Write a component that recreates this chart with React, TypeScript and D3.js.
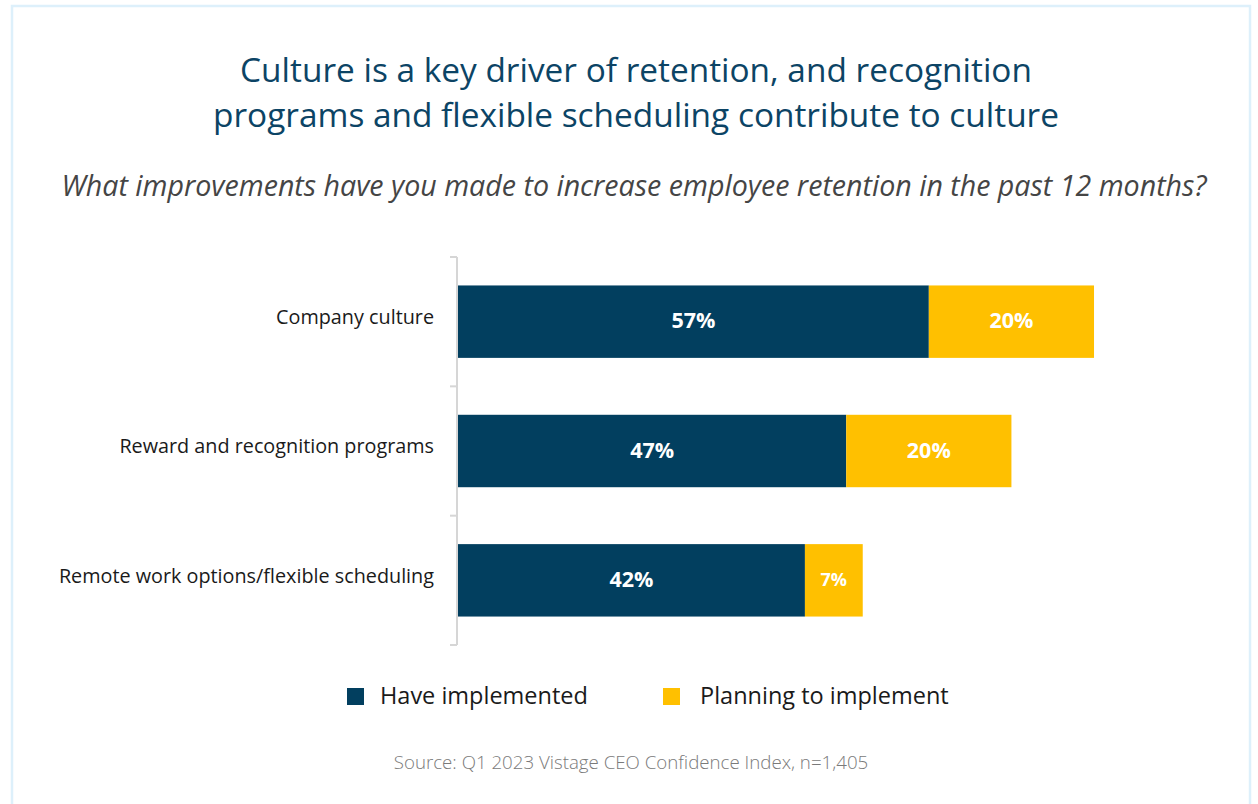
import React from "react";
import * as d3 from "d3";

const categories = [
  "Company culture",
  "Reward and recognition programs",
  "Remote work options/flexible scheduling",
];
const haveImplemented = [57, 47, 42];
const planningToImplement = [20, 20, 7];
const seriesNames = ["Have implemented", "Planning to implement"];
const seriesColors = ["#023f5f", "#ffc000"];
const titleLines = [
  "Culture is a key driver of retention, and recognition",
  "programs and flexible scheduling contribute to culture",
];
const subtitle =
  "What improvements have you made to increase employee retention in the past 12 months?";
const source = "Source: Q1 2023 Vistage CEO Confidence Index, n=1,405";

const W = 1258;
const H = 804;
const FONT = "'Open Sans', 'Noto Sans', sans-serif";

export default function App() {
  const x = d3.scaleLinear().domain([0, 100]).range([458, 1284]);
  const y = d3
    .scaleBand<string>()
    .domain(categories)
    .range([257, 645])
    .paddingInner(0.44)
    .paddingOuter(0.22);

  const tickYs = [257, ...categories.slice(1).map((c) => (y(c) as number) - (y.step() * 0.44) / 2), 645];

  const stacked = categories.map((c, i) => {
    const a = haveImplemented[i];
    const b = planningToImplement[i];
    return [
      { key: 0, x0: 0, x1: a, v: a },
      { key: 1, x0: a, x1: a + b, v: b },
    ];
  });

  const legendSquareX = [347, 663];
  const legendTextX = [380, 700];

  return (
    <div style={{ position: "absolute", left: 0, top: 0 }}>
      <svg width={W} height={H} style={{ display: "block", fontFamily: FONT }}>
        <rect x={0} y={0} width={W} height={H} fill="#ffffff" />
        <rect x={12} y={6} width={1238} height={820} fill="none" stroke="#ddf0fb" strokeWidth={2.5} />
        {titleLines.map((t, i) => (
          <text
            key={i}
            x={636}
            y={82 + i * 45}
            textAnchor="middle"
            fontSize={33.4}
            fill="#0c4465"
          >
            {t}
          </text>
        ))}
        <text x={634} y={196} textAnchor="middle" fontSize={28.6} fontStyle="italic" fill="#454545">
          {subtitle}
        </text>

        {/* axis */}
        <line x1={457} x2={457} y1={257} y2={645} stroke="#d6d6d6" strokeWidth={2} />
        {tickYs.map((ty, i) => (
          <line key={i} x1={450} x2={457} y1={ty} y2={ty} stroke="#d6d6d6" strokeWidth={2} />
        ))}

        {categories.map((c, i) => (
          <g key={c}>
            <text
              x={434}
              y={(y(c) as number) + y.bandwidth() / 2 - 3}
              textAnchor="end"
              dominantBaseline="middle"
              fontSize={19.8}
              fill="#1a1a1a"
            >
              {c}
            </text>
            {stacked[i].map((s) => (
              <g key={s.key}>
                <rect
                  x={x(s.x0)}
                  y={y(c) as number}
                  width={x(s.x1) - x(s.x0)}
                  height={y.bandwidth()}
                  fill={seriesColors[s.key]}
                />
                <text
                  x={(x(s.x0) + x(s.x1)) / 2}
                  y={(y(c) as number) + y.bandwidth() / 2 + 1}
                  textAnchor="middle"
                  dominantBaseline="middle"
                  fontSize={s.v < 10 ? 18 : 21.5}
                  fontWeight="bold"
                  fill="#ffffff"
                >
                  {s.v}%
                </text>
              </g>
            ))}
          </g>
        ))}

        {/* legend */}
        {seriesNames.map((n, i) => (
          <g key={n}>
            <rect x={legendSquareX[i]} y={688} width={17} height={17} fill={seriesColors[i]} />
            <text x={legendTextX[i]} y={704} fontSize={23.5} fill="#1a1a1a">
              {n}
            </text>
          </g>
        ))}

        <text x={631} y={769} textAnchor="middle" fontSize={18.7} fontWeight={300} fill="#7a7a7a">
          {source}
        </text>
      </svg>
    </div>
  );
}
